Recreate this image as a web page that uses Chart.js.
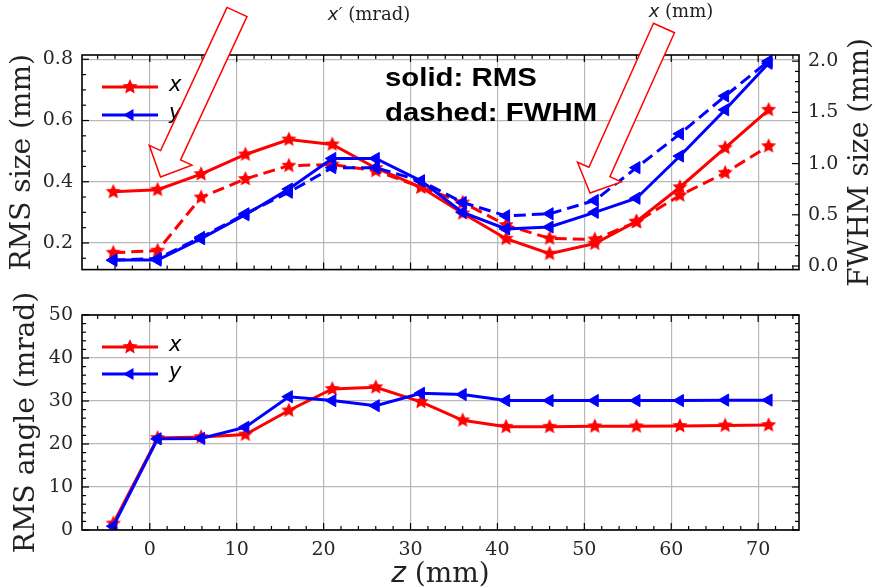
<!DOCTYPE html>
<html>
<head>
<meta charset="utf-8">
<script src="https://cdn.jsdelivr.net/npm/chart.js@4.4.1/dist/chart.umd.min.js"></script>
<style>
  body { margin: 0; background: #fff; }
  #wrap { position: relative; width: 875px; height: 588px; }
  canvas { position: absolute; left: 0; }
</style>
</head>
<body>
<div id="wrap">
  <canvas id="top_chart" width="875" height="290" style="top:0"></canvas>
  <canvas id="bottom_chart" width="875" height="298" style="top:290px"></canvas>
</div>
<script>
// positions along the beamline (mm)
const z_pos = [-4.2, 0.9, 5.9, 11, 16, 21, 26, 31.2, 36, 41, 46, 51.2, 56, 61, 66.2, 71.2];

// top panel: beam size
const x_rms  = [0.367, 0.374, 0.425, 0.489, 0.538, 0.522, 0.445, 0.382, 0.297, 0.214, 0.165, 0.198, 0.270, 0.382, 0.511, 0.635];
const y_rms  = [0.144, 0.144, 0.214, 0.292, 0.376, 0.476, 0.476, 0.403, 0.300, 0.246, 0.252, 0.300, 0.346, 0.484, 0.635, 0.787];
const x_fwhm = [0.13, 0.15, 0.67, 0.85, 0.98, 0.99, 0.93, 0.77, 0.62, 0.40, 0.27, 0.26, 0.43, 0.69, 0.91, 1.17];
const y_fwhm = [0.056, 0.073, 0.28, 0.51, 0.72, 0.96, 0.96, 0.83, 0.62, 0.49, 0.51, 0.64, 0.96, 1.29, 1.66, 2.00];

// bottom panel: RMS angle (mrad)
const x_angle = [1.5, 21.4, 21.6, 22.2, 27.8, 32.8, 33.2, 29.8, 25.5, 24.0, 24.0, 24.1, 24.1, 24.2, 24.3, 24.4];
const y_angle = [0.9, 21.2, 21.3, 23.9, 31.0, 30.1, 28.9, 31.8, 31.5, 30.1, 30.1, 30.1, 30.1, 30.1, 30.2, 30.2];

const legend_labels = ['x', 'y'];

const RED = '#ff0000';
const BLUE = '#0000ff';
const SERIF = '"DejaVu Serif", serif';
const SANS_IT = 'italic 21px "DejaVu Sans"';
const TICK_FONT = { family: 'DejaVu Serif', size: 19 };
const TITLE_FONT = { family: 'DejaVu Serif', size: 28 };
const GRID = '#b8b8b8';

function star_image(r, color) {
    const c = document.createElement('canvas');
    const s = Math.ceil(r * 2 + 2);
    c.width = c.height = s;
    const g = c.getContext('2d');
    g.fillStyle = color;
    g.beginPath();
    for (let i = 0; i < 10; i++) {
        const rad = i % 2 === 0 ? r : r * 0.47;
        const ang = -Math.PI / 2 + i * Math.PI / 5;
        g.lineTo(s / 2 + rad * Math.cos(ang), s / 2 + rad * Math.sin(ang));
    }
    g.closePath();
    g.fill();
    return c;
}
const red_star = star_image(8, RED);

function pts(values) {
    return z_pos.map((z, i) => ({ x: z, y: values[i] }));
}

function star_set(values, axis, dashed) {
    return {
        data: pts(values), yAxisID: axis,
        borderColor: RED, borderWidth: 3, borderDash: dashed ? [12, 6] : [],
        pointStyle: red_star, pointRadius: 6, tension: 0, fill: false
    };
}
function tri_set(values, axis, dashed) {
    return {
        data: pts(values), yAxisID: axis,
        borderColor: BLUE, borderWidth: 3, borderDash: dashed ? [12, 6] : [],
        pointStyle: 'triangle', pointRotation: -90, pointRadius: 7,
        pointBackgroundColor: BLUE, pointBorderColor: BLUE, pointBorderWidth: 1,
        tension: 0, fill: false
    };
}

// inward ticks on all four sides plus black frame
function side_ticks(ctx, scale, side, major, minor, a) {
    const start = Math.ceil(scale.min / minor - 1e-6);
    for (let k = start; k * minor <= scale.max + 1e-9; k++) {
        const v = k * minor;
        const is_major = Math.abs(v / major - Math.round(v / major)) < 1e-6;
        const len = is_major ? 7 : 4;
        const p = scale.getPixelForValue(v);
        ctx.beginPath();
        if (side === 'bottom') { ctx.moveTo(p, a.bottom); ctx.lineTo(p, a.bottom - len); }
        if (side === 'top') { ctx.moveTo(p, a.top); ctx.lineTo(p, a.top + len); }
        if (side === 'left') { ctx.moveTo(a.left, p); ctx.lineTo(a.left + len, p); }
        if (side === 'right') { ctx.moveTo(a.right, p); ctx.lineTo(a.right - len, p); }
        ctx.stroke();
    }
}

const frame_plugin = {
    id: 'frame_plugin',
    afterDatasetsDraw(chart, args, opts) {
        const ctx = chart.ctx;
        const a = chart.chartArea;
        ctx.save();
        ctx.strokeStyle = '#000';
        ctx.lineWidth = 1.2;
        for (const s of opts.sides) {
            side_ticks(ctx, chart.scales[s.scale], s.side, s.major, s.minor, a);
        }
        ctx.lineWidth = 1.6;
        ctx.strokeRect(a.left, a.top, a.right - a.left, a.bottom - a.top);
        ctx.restore();
    }
};

function draw_legend(ctx, x0, ys) {
    ctx.save();
    ctx.lineWidth = 3;
    // x entry
    ctx.strokeStyle = RED;
    ctx.beginPath(); ctx.moveTo(x0, ys[0]); ctx.lineTo(x0 + 56, ys[0]); ctx.stroke();
    ctx.drawImage(red_star, x0 + 28 - red_star.width / 2, ys[0] - red_star.height / 2);
    // y entry
    ctx.strokeStyle = BLUE;
    ctx.beginPath(); ctx.moveTo(x0, ys[1]); ctx.lineTo(x0 + 56, ys[1]); ctx.stroke();
    ctx.fillStyle = BLUE;
    ctx.beginPath();
    ctx.moveTo(x0 + 28 - 7, ys[1]);
    ctx.lineTo(x0 + 28 + 3.5, ys[1] - 6);
    ctx.lineTo(x0 + 28 + 3.5, ys[1] + 6);
    ctx.closePath(); ctx.fill();
    ctx.fillStyle = '#000';
    ctx.font = SANS_IT;
    ctx.textBaseline = 'middle';
    ctx.fillText(legend_labels[0], x0 + 67, ys[0] - 1);
    ctx.fillText(legend_labels[1], x0 + 67, ys[1] - 1);
    ctx.restore();
}

function block_arrow(ctx, tail, tip, w, hw, hl) {
    const dx = tip[0] - tail[0], dy = tip[1] - tail[1];
    const len = Math.hypot(dx, dy);
    const d = [dx / len, dy / len];
    const n = [-d[1], d[0]];
    const b = [tip[0] - d[0] * hl, tip[1] - d[1] * hl];
    const p = [
        [tail[0] + n[0] * w, tail[1] + n[1] * w],
        [b[0] + n[0] * w, b[1] + n[1] * w],
        [b[0] + n[0] * hw, b[1] + n[1] * hw],
        tip,
        [b[0] - n[0] * hw, b[1] - n[1] * hw],
        [b[0] - n[0] * w, b[1] - n[1] * w],
        [tail[0] - n[0] * w, tail[1] - n[1] * w]
    ];
    ctx.beginPath();
    p.forEach((q, i) => i ? ctx.lineTo(q[0], q[1]) : ctx.moveTo(q[0], q[1]));
    ctx.closePath();
    ctx.fillStyle = '#fff';
    ctx.fill();
    ctx.strokeStyle = RED;
    ctx.lineWidth = 1.5;
    ctx.stroke();
}

// sans italic symbol followed by serif unit text
function mixed_text(ctx, sym, rest, x, y, size) {
    ctx.font = 'italic ' + size + 'px "DejaVu Sans"';
    const w1 = ctx.measureText(sym).width;
    ctx.font = size + 'px ' + SERIF;
    const w2 = ctx.measureText(rest).width;
    const left = x - (w1 + w2) / 2;
    ctx.font = 'italic ' + size + 'px "DejaVu Sans"';
    ctx.fillText(sym, left, y);
    ctx.font = size + 'px ' + SERIF;
    ctx.fillText(rest, left + w1, y);
}

const top_overlay = {
    id: 'top_overlay',
    afterDraw(chart) {
        const ctx = chart.ctx;
        draw_legend(ctx, 102, [87, 115]);
        ctx.save();
        ctx.fillStyle = '#000';
        ctx.font = 'bold 26px "Liberation Sans", Arial, sans-serif';
        ctx.textBaseline = 'middle';
        ctx.save();
        ctx.translate(385, 0);
        ctx.scale(1.13, 1);
        ctx.fillText('solid: RMS', 0, 79);
        ctx.fillText('dashed: FWHM', 0, 114);
        ctx.restore();

        ctx.fillStyle = '#222';
        ctx.textBaseline = 'alphabetic';
        mixed_text(ctx, 'x\u2032', ' (mrad)', 369, 20, 18);
        mixed_text(ctx, 'x', ' (mm)', 681, 17, 18);

        // right axis title, reading upward
        ctx.translate(861, (chart.chartArea.top + chart.chartArea.bottom) / 2);
        ctx.rotate(-Math.PI / 2);
        ctx.textAlign = 'center';
        ctx.textBaseline = 'middle';
        ctx.font = '28px ' + SERIF;
        ctx.fillText('FWHM size (mm)', 0, 0);
        ctx.restore();

        ctx.save();
        block_arrow(ctx, [237, 12], [160.5, 177], 11, 23.5, 24);
        block_arrow(ctx, [664, 28], [590, 193], 11.5, 24, 23);
        ctx.restore();
    }
};

const bottom_overlay = {
    id: 'bottom_overlay',
    afterDraw(chart) {
        const ctx = chart.ctx;
        draw_legend(ctx, 102, [57, 84]);
        ctx.save();
        ctx.fillStyle = '#222';
        const a = chart.chartArea;
        mixed_text(ctx, 'z', ' (mm)', (a.left + a.right) / 2, 292, 28);
        ctx.restore();
    }
};

const x_scale_base = {
    type: 'linear', min: -7.8, max: 74.7,
    grid: { color: GRID, lineWidth: 1.2, drawTicks: false },
    border: { display: false }
};

new Chart(document.getElementById('top_chart'), {
    type: 'line',
    data: {
        datasets: [
            tri_set(y_rms, 'y', false),
            tri_set(y_fwhm, 'y2', true),
            star_set(x_rms, 'y', false),
            star_set(x_fwhm, 'y2', true)
        ]
    },
    options: {
        responsive: false,
        animation: false,
        layout: { padding: { top: 55, left: 0, right: 0, bottom: 0 } },
        plugins: {
            legend: { display: false }, tooltip: { enabled: false },
            frame_plugin: {
                sides: [
                    { side: 'bottom', scale: 'x', major: 10, minor: 2 },
                    { side: 'top', scale: 'x', major: 10, minor: 2 },
                    { side: 'left', scale: 'y', major: 0.2, minor: 0.05 },
                    { side: 'right', scale: 'y2', major: 0.5, minor: 0.1 }
                ]
            }
        },
        scales: {
            x: Object.assign({}, x_scale_base, {
                ticks: { display: false, stepSize: 10, includeBounds: false },
                afterFit: s => { s.height = 19; }
            }),
            y: {
                position: 'left', min: 0.113, max: 0.814,
                grid: { color: GRID, lineWidth: 1.2, drawTicks: false },
                border: { display: false },
                ticks: {
                    stepSize: 0.2, includeBounds: false, padding: 9,
                    color: '#262626', font: TICK_FONT,
                    callback: v => v.toFixed(1)
                },
                title: {
                    display: true, text: 'RMS size (mm)', color: '#222',
                    font: TITLE_FONT, padding: { top: 6 }
                },
                afterFit: s => { s.width = 82; }
            },
            y2: {
                position: 'right', min: -0.035, max: 2.06,
                grid: { display: false, drawTicks: false },
                border: { display: false },
                ticks: {
                    stepSize: 0.5, includeBounds: false, padding: 9,
                    color: '#262626', font: TICK_FONT,
                    callback: v => v.toFixed(1)
                },
                afterFit: s => { s.width = 76; }
            }
        }
    },
    plugins: [frame_plugin, top_overlay]
});

new Chart(document.getElementById('bottom_chart'), {
    type: 'line',
    data: {
        datasets: [
            tri_set(y_angle, 'y', false),
            star_set(x_angle, 'y', false)
        ]
    },
    options: {
        responsive: false,
        animation: false,
        layout: { padding: { top: 25, left: 0, right: 76, bottom: 0 } },
        plugins: {
            legend: { display: false }, tooltip: { enabled: false },
            frame_plugin: {
                sides: [
                    { side: 'bottom', scale: 'x', major: 10, minor: 2 },
                    { side: 'top', scale: 'x', major: 10, minor: 2 },
                    { side: 'left', scale: 'y', major: 10, minor: 2 },
                    { side: 'right', scale: 'y', major: 10, minor: 2 }
                ]
            }
        },
        scales: {
            x: Object.assign({}, x_scale_base, {
                ticks: {
                    stepSize: 10, includeBounds: false, padding: 9,
                    color: '#262626', font: TICK_FONT, maxRotation: 0
                },
                afterFit: s => { s.height = 58; }
            }),
            y: {
                position: 'left', min: 0, max: 50,
                grid: { color: GRID, lineWidth: 1.2, drawTicks: false },
                border: { display: false },
                ticks: {
                    stepSize: 10, includeBounds: false, padding: 9,
                    color: '#262626', font: TICK_FONT
                },
                title: {
                    display: true, text: 'RMS angle (mrad)', color: '#222',
                    font: TITLE_FONT, padding: { top: 10 }
                },
                afterFit: s => { s.width = 82; }
            }
        }
    },
    plugins: [frame_plugin, bottom_overlay]
});
</script>
</body>
</html>
